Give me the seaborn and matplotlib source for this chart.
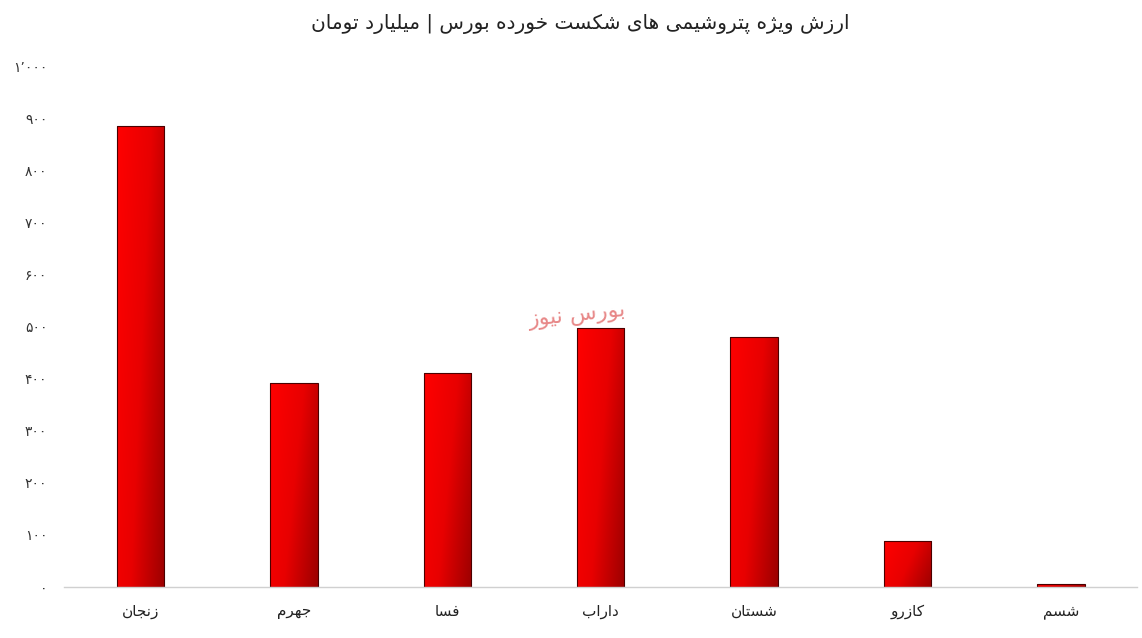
import matplotlib
matplotlib.use("Agg")
import matplotlib.pyplot as plt
import numpy as np
import pandas as pd
import seaborn as sns
from matplotlib.colors import LinearSegmentedColormap

# values (billion toman)
companies = ["زنجان", "جهرم", "فسا", "داراب", "شستان", "کازرو", "شسم"]
values = [887, 392, 411, 498, 481, 88, 6]
y_ticks = [0, 100, 200, 300, 400, 500, 600, 700, 800, 900, 1000]

title = "ارزش ویژه پتروشیمی های شکست خورده بورس | میلیارد تومان"
watermark = "بورس نیوز"

# --- minimal Persian shaping (matplotlib has no complex text layout) ---
FORMS = {
    "ا": ("\ufe8d", "\ufe8e", None, None),
    "آ": ("\ufe81", "\ufe82", None, None),
    "ب": ("\ufe8f", "\ufe90", "\ufe91", "\ufe92"),
    "پ": ("\ufb56", "\ufb57", "\ufb58", "\ufb59"),
    "ت": ("\ufe95", "\ufe96", "\ufe97", "\ufe98"),
    "ث": ("\ufe99", "\ufe9a", "\ufe9b", "\ufe9c"),
    "ج": ("\ufe9d", "\ufe9e", "\ufe9f", "\ufea0"),
    "چ": ("\ufb7a", "\ufb7b", "\ufb7c", "\ufb7d"),
    "ح": ("\ufea1", "\ufea2", "\ufea3", "\ufea4"),
    "خ": ("\ufea5", "\ufea6", "\ufea7", "\ufea8"),
    "د": ("\ufea9", "\ufeaa", None, None),
    "ذ": ("\ufeab", "\ufeac", None, None),
    "ر": ("\ufead", "\ufeae", None, None),
    "ز": ("\ufeaf", "\ufeb0", None, None),
    "ژ": ("\ufb8a", "\ufb8b", None, None),
    "س": ("\ufeb1", "\ufeb2", "\ufeb3", "\ufeb4"),
    "ش": ("\ufeb5", "\ufeb6", "\ufeb7", "\ufeb8"),
    "ص": ("\ufeb9", "\ufeba", "\ufebb", "\ufebc"),
    "ض": ("\ufebd", "\ufebe", "\ufebf", "\ufec0"),
    "ط": ("\ufec1", "\ufec2", "\ufec3", "\ufec4"),
    "ظ": ("\ufec5", "\ufec6", "\ufec7", "\ufec8"),
    "ع": ("\ufec9", "\ufeca", "\ufecb", "\ufecc"),
    "غ": ("\ufecd", "\ufece", "\ufecf", "\ufed0"),
    "ف": ("\ufed1", "\ufed2", "\ufed3", "\ufed4"),
    "ق": ("\ufed5", "\ufed6", "\ufed7", "\ufed8"),
    "ک": ("\ufb8e", "\ufb8f", "\ufb90", "\ufb91"),
    "گ": ("\ufb92", "\ufb93", "\ufb94", "\ufb95"),
    "ل": ("\ufedd", "\ufede", "\ufedf", "\ufee0"),
    "م": ("\ufee1", "\ufee2", "\ufee3", "\ufee4"),
    "ن": ("\ufee5", "\ufee6", "\ufee7", "\ufee8"),
    "ه": ("\ufee9", "\ufeea", "\ufeeb", "\ufeec"),
    "و": ("\ufeed", "\ufeee", None, None),
    "ی": ("\ufbfc", "\ufbfd", "\ufbfe", "\ufbff"),
}


def joins_next(ch):
    return ch in FORMS and FORMS[ch][2] is not None


def shape(text):
    out = []
    for i, ch in enumerate(text):
        if ch not in FORMS:
            out.append(ch)
            continue
        prev = text[i - 1] if i > 0 else ""
        nxt = text[i + 1] if i + 1 < len(text) else ""
        left = joins_next(prev)
        right = joins_next(ch) and nxt in FORMS
        iso, fin, ini, med = FORMS[ch]
        if left and right:
            out.append(med)
        elif left:
            out.append(fin)
        elif right:
            out.append(ini)
        else:
            out.append(iso)
    return "".join(out)[::-1]


def fa_num(v):
    s = f"{v:,}".replace(",", "\u066c")
    return s.translate(str.maketrans("0123456789", "۰۱۲۳۴۵۶۷۸۹"))


df = pd.DataFrame({"company": [shape(c) for c in companies], "value": values})

sns.set_theme(style="white")
plt.rcParams["font.family"] = ["DejaVu Sans"]

fig = plt.figure(figsize=(11.42, 6.38), dpi=100)
ax = fig.add_axes([0.056, 0.080, 0.940, 0.815])

sns.barplot(data=df, x="company", y="value", color="#ff0000", width=0.31,
            edgecolor="#4a0000", linewidth=0.8, ax=ax)

# red gradient fill clipped to each bar
cmap = LinearSegmentedColormap.from_list("redgrad", ["#ff0000", "#e80000", "#9c0000"])
gx, gy = np.meshgrid(np.linspace(0, 1, 60), np.linspace(0, 1, 200))
grad = 0.8 * gx + 0.35 * gy
for bar in ax.patches:
    x0, w, h = bar.get_x(), bar.get_width(), bar.get_height()
    if h <= 0:
        continue
    im = ax.imshow(grad, cmap=cmap, vmin=0, vmax=1.15, aspect="auto",
                   extent=[x0, x0 + w, 0, h], origin="upper", zorder=bar.get_zorder())
    im.set_clip_path(bar)
    bar.set_facecolor("none")
    bar.set_zorder(bar.get_zorder() + 0.5)

ax.set_xlim(-0.5, len(companies) - 0.5)
ax.set_ylim(0, 1000)
ax.set_yticks(y_ticks)
ax.set_yticklabels([fa_num(t) for t in y_ticks], fontsize=10, color="#333333")
ax.tick_params(axis="y", length=0, pad=12)
ax.tick_params(axis="x", length=0, pad=12, labelsize=11, labelcolor="#222222")
ax.set_xlabel("")
ax.set_ylabel("")
for side in ["top", "right", "left"]:
    ax.spines[side].set_visible(False)
ax.spines["bottom"].set_color("#d0d0d0")
ax.spines["bottom"].set_linewidth(1.0)

fig.text(0.508, 0.962, shape(title), ha="center", va="center", fontsize=14.5, color="#222222")
ax.text(2.85, 522, shape(watermark), ha="center", va="center", fontsize=16,
        color="#e06060", alpha=0.75, rotation=6, zorder=1)

fig.savefig("out.png", dpi=100)
